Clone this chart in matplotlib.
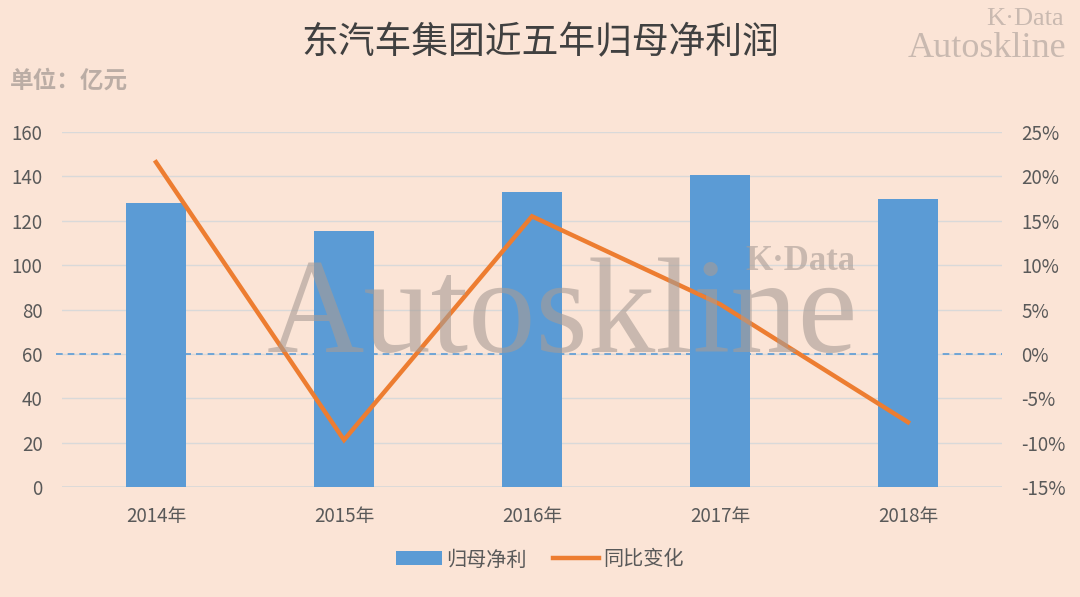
import matplotlib
matplotlib.use("Agg")
import matplotlib.pyplot as plt
from matplotlib.ticker import FuncFormatter

plt.rcParams['font.family'] = ['Noto Sans CJK SC', 'DejaVu Sans']

categories = ["2014年", "2015年", "2016年", "2017年", "2018年"]
profit = [128, 115.5, 133, 140.5, 130]
yoy = [21.6, -9.7, 15.5, 5.6, -7.7]
left_ticks = [0, 20, 40, 60, 80, 100, 120, 140, 160]
right_ticks = [-15, -10, -5, 0, 5, 10, 15, 20, 25]

BG = "#FBE4D6"
BLUE = "#5B9BD5"
ORANGE = "#ED7D31"
TXT = "#595959"
GRID = "#D9D9D9"

fig = plt.figure(figsize=(10.8, 5.97), dpi=100, facecolor=BG)
ax = fig.add_axes([62/1080, 1-487/597, 940/1080, 355/597])
ax.set_facecolor(BG)
x = list(range(len(categories)))

ax.bar(x, profit, width=0.315, color=BLUE, zorder=2, label="归母净利")
ax.set_xlim(-0.5, len(categories) - 0.5)
ax.set_ylim(left_ticks[0], left_ticks[-1])
ax.set_yticks(left_ticks)
ax.grid(axis='y', color=GRID, linewidth=1, zorder=0)
ax.set_axisbelow(True)
for s in ax.spines.values():
    s.set_visible(False)
ax.axhline(0, color=GRID, linewidth=1.2, zorder=1)
ax.set_xticks(x)
ax.set_xticklabels(categories)
ax.tick_params(axis='both', length=0, colors=TXT, labelsize=13.5)
ax.tick_params(axis='x', pad=14)
ax.tick_params(axis='y', pad=14)

ax2 = ax.twinx()
ax2.set_ylim(right_ticks[0], right_ticks[-1])
ax2.set_yticks(right_ticks)
ax2.yaxis.set_major_formatter(FuncFormatter(lambda v, p: f"{v:.0f}%"))
for s in ax2.spines.values():
    s.set_visible(False)
ax2.tick_params(axis='y', length=0, colors=TXT, labelsize=13.5, pad=14)
ax2.plot([-0.53, len(categories) - 0.5], [0, 0], color=BLUE, linewidth=1.2,
         linestyle=(0, (4, 3)), zorder=3, clip_on=False)
ax2.plot(x, yoy, color=ORANGE, linewidth=3.2, zorder=5, label="同比变化",
         solid_joinstyle='miter')

# watermarks
fig.text(0.5204, 0.4104, "Autoskline", family="Liberation Serif", fontsize=97,
         color="#A89C95", alpha=0.6, ha='center', va='baseline', zorder=10)
fig.text(0.792, 0.5477, "K·Data", family="Liberation Serif", fontsize=25,
         fontweight='bold', color="#A89C95", alpha=0.6, ha='right', va='baseline', zorder=10)
fig.text(0.985, 0.958, "K·Data", family="Liberation Serif", fontsize=19,
         color="#C9B9B0", ha='right', va='baseline')
fig.text(0.987, 0.905, "Autoskline", family="Liberation Serif", fontsize=26,
         color="#C9B9B0", ha='right', va='baseline')

fig.text(0.5, 0.929, "东汽车集团近五年归母净利润", fontsize=26.5, color="#404040",
         ha='center', va='center')
fig.text(0.009, 0.865, "单位：亿元", fontsize=17, color="#BBADA5",
         fontweight='bold', ha='left', va='center')

h1, l1 = ax.get_legend_handles_labels()
h2, l2 = ax2.get_legend_handles_labels()
fig.legend(h1 + h2, l1 + l2, loc='center', bbox_to_anchor=(0.5, 0.062), ncol=2,
           frameon=False, fontsize=14.5, labelcolor=TXT, handlelength=2.3,
           handletextpad=0.2, columnspacing=1.3)

fig.savefig("out.png", dpi=100, facecolor=BG)
